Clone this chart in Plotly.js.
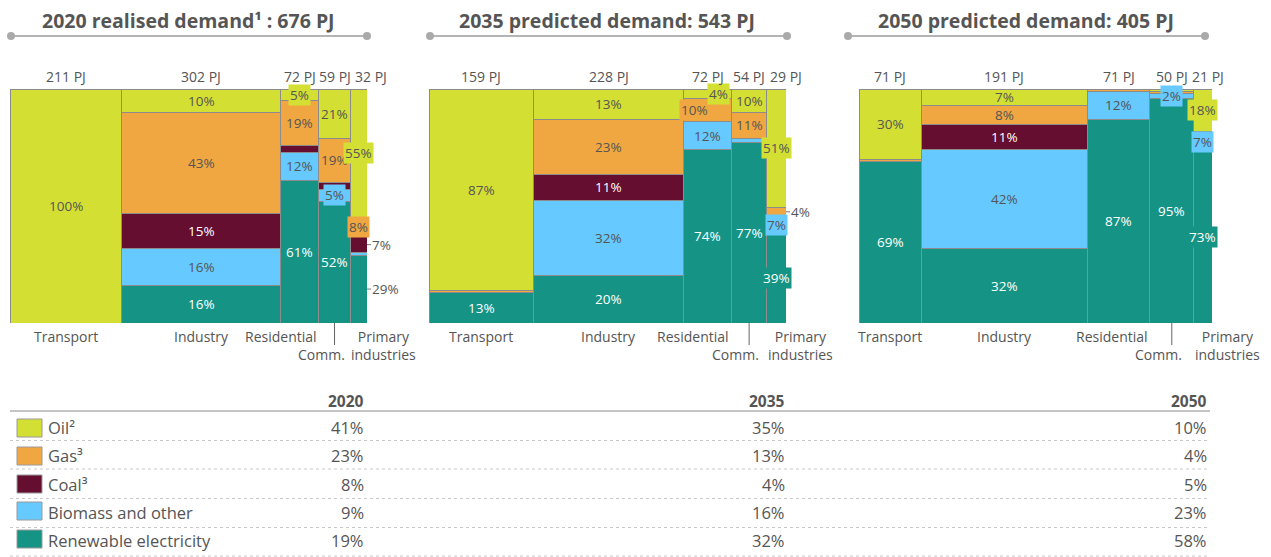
<!DOCTYPE html>
<html><head><meta charset="utf-8">
<script src="https://cdn.plot.ly/plotly-3.0.1.min.js"></script>
<style>html,body{margin:0;padding:0;background:#fff}</style>
</head><body>
<div id="chart" style="width:1271px;height:557px"></div>
<script>
// ---------- DATA ----------
const sectors = ['Transport', 'Industry', 'Residential', 'Comm.', 'Primary industries'];
const panelTitles = ['2020 realised demand¹ : 676 PJ', '2035 predicted demand: 543 PJ', '2050 predicted demand: 405 PJ'];
const years = ['2020', '2035', '2050'];
const fuels = ['Oil²', 'Gas³', 'Coal³', 'Biomass and other', 'Renewable electricity'];

// sector demand (PJ): Transport, Industry, Residential, Comm., Primary industries
const pj2020 = [211, 302, 72, 59, 32];
const pj2035 = [159, 228, 72, 54, 29];
const pj2050 = [71, 191, 71, 50, 21];

// fuel share within each sector (%)
const oil2020 = [100, 10, 5, 21, 55];
const gas2020 = [0, 43, 19, 19, 8];
const coal2020 = [0, 15, 3, 3, 7];
const bio2020 = [0, 16, 12, 5, 1];
const ren2020 = [0, 16, 61, 52, 29];

const oil2035 = [87, 13, 4, 10, 51];
const gas2035 = [1, 23, 10, 11, 4];
const coal2035 = [0, 11, 0, 0, 0];
const bio2035 = [0, 32, 12, 2, 7];
const ren2035 = [13, 20, 74, 77, 39];

const oil2050 = [30, 7, 0, 1, 18];
const gas2050 = [1, 8, 1, 1, 1];
const coal2050 = [0, 11, 0, 0, 0];
const bio2050 = [0, 42, 12, 2, 7];
const ren2050 = [69, 32, 87, 95, 73];

// overall fuel mix (%)
const mix2020 = [41, 23, 8, 9, 19];
const mix2035 = [35, 13, 4, 16, 32];
const mix2050 = [10, 4, 5, 23, 58];

// ---------- STYLE / LAYOUT ----------
const W = 1271, H = 557;
const PX = x => x / W, PY = y => 1 - y / H;
const panelX = [[10, 367], [429, 786], [859, 1212]];
const TOP = 89, BOT = 323;
const titleLine = [[11, 367], [430, 787], [848, 1205]];
const titleCenter = [188, 607, 1026];
const primPJShift = [12, 10, 5];
const fuelColors = ['#d4df33', '#f0a741', '#650e2f', '#66c9ff', '#159486'];
const GREY = '#555555';
const textOn = [GREY, GREY, '#ffffff', GREY, '#ffffff'];
const LBL = 13.5;

// label style overrides: panel-sector-fuel
const labelMode = {
  '0-2-0': {m: 'box'}, '0-3-3': {m: 'box'}, '0-4-2': {m: 'out'}, '0-4-4': {m: 'out'},
  '1-2-0': {m: 'box', dx: 11}, '1-2-1': {m: 'box', dx: -13}, '1-4-1': {m: 'out'},
  '2-3-3': {m: 'box'}
};

const pjs = [pj2020, pj2035, pj2050];
const shares = [
  [oil2020, gas2020, coal2020, bio2020, ren2020],
  [oil2035, gas2035, coal2035, bio2035, ren2035],
  [oil2050, gas2050, coal2050, bio2050, ren2050]
];
const mixes = [mix2020, mix2035, mix2050];

const traces = [], annotations = [], shapes = [];
const layout = {
  width: W, height: H, margin: {l: 0, r: 0, t: 0, b: 0},
  paper_bgcolor: '#fff', plot_bgcolor: 'rgba(0,0,0,0)',
  barmode: 'stack', showlegend: false,
  font: {family: 'Open Sans, Noto Sans, sans-serif', color: GREY, size: 14}
};

pjs.forEach((pj, p) => {
  const sfx = p ? String(p + 1) : '';
  const xa = 'x' + sfx, ya = 'y' + sfx;
  const total = pj.reduce((a, b) => a + b, 0);
  const toPxX = u => panelX[p][0] + u / total * (panelX[p][1] - panelX[p][0]);
  const toPxY = v => BOT - v / 100 * (BOT - TOP);
  const lefts = [], centers = [];
  let acc = 0;
  pj.forEach(v => { lefts.push(acc); centers.push(acc + v / 2); acc += v; });
  const colSum = pj.map((_, i) => shares[p].reduce((s, arr) => s + arr[i], 0));
  const norm = shares[p].map(arr => arr.map((v, i) => v / colSum[i] * 100));

  layout['xaxis' + sfx] = {domain: [PX(panelX[p][0]), PX(panelX[p][1])], range: [0, total],
    visible: false, fixedrange: true, anchor: ya};
  layout['yaxis' + sfx] = {domain: [PY(BOT), PY(TOP)], range: [0, 100],
    visible: false, fixedrange: true, anchor: xa};

  for (let k = 4; k >= 0; k--) {
    traces.push({
      type: 'bar', x: centers, y: norm[k].map(v => v > 0 ? v : null), width: pj,
      xaxis: xa, yaxis: ya, hoverinfo: 'skip', showlegend: false,
      marker: {color: fuelColors[k], line: {color: '#8c8c8c', width: 1}}
    });
  }

  // segment labels
  pj.forEach((_, i) => {
    let base = 0;
    for (let k = 4; k >= 0; k--) {
      const raw = shares[p][k][i], v = norm[k][i];
      const mid = base + v / 2;
      base += v;
      if (!raw) continue;
      const ov = labelMode[p + '-' + i + '-' + k];
      let mode = ov ? ov.m : (i === 4 ? (raw >= 4 ? 'box' : 'none') : (raw >= 4 ? 'plain' : 'none'));
      if (mode === 'none') continue;
      const txt = raw + '%';
      if (mode === 'out') {
        const xr = lefts[i] + pj[i];
        annotations.push({xref: xa, yref: ya, x: xr, y: mid, text: txt, showarrow: false,
          xanchor: 'left', yanchor: 'middle', xshift: 3, font: {size: LBL, color: GREY}});
        const px0 = toPxX(xr), py0 = toPxY(mid);
        shapes.push({type: 'line', xref: 'paper', yref: 'paper', x0: PX(px0), x1: PX(px0 + 4),
          y0: PY(py0), y1: PY(py0), line: {color: '#777', width: 1}});
      } else {
        const a = {xref: xa, yref: ya, x: centers[i], y: mid, text: txt, showarrow: false,
          xanchor: 'center', yanchor: 'middle', xshift: (ov && ov.dx) || 0,
          font: {size: LBL, color: textOn[k]}};
        if (mode === 'box') { a.bgcolor = fuelColors[k]; a.borderpad = 1; }
        annotations.push(a);
      }
    }
  });

  // PJ labels on top
  pj.forEach((v, i) => {
    annotations.push({xref: xa, yref: 'paper', x: centers[i], y: PY(76), text: v + ' PJ',
      showarrow: false, xanchor: 'center', yanchor: 'middle', xshift: i === 4 ? primPJShift[p] : 0,
      font: {size: 14, color: GREY}});
  });

  // sector labels below
  annotations.push({xref: xa, yref: 'paper', x: centers[0], y: PY(336), text: sectors[0],
    showarrow: false, xanchor: 'center', yanchor: 'middle', font: {size: 14, color: GREY}});
  annotations.push({xref: xa, yref: 'paper', x: centers[1], y: PY(336), text: sectors[1],
    showarrow: false, xanchor: 'center', yanchor: 'middle', font: {size: 14, color: GREY}});
  annotations.push({xref: xa, yref: 'paper', x: lefts[2] + pj[2], y: PY(336), text: sectors[2],
    showarrow: false, xanchor: 'right', yanchor: 'middle', xshift: 0, font: {size: 14, color: GREY}});
  annotations.push({xref: xa, yref: 'paper', x: centers[3], y: PY(354), text: sectors[3],
    showarrow: false, xanchor: 'right', yanchor: 'middle', xshift: 12, font: {size: 14, color: GREY}});
  const cx = toPxX(centers[3]);
  shapes.push({type: 'line', xref: 'paper', yref: 'paper', x0: PX(cx), x1: PX(cx),
    y0: PY(BOT), y1: PY(345), line: {color: '#666', width: 1}});
  annotations.push({xref: xa, yref: 'paper', x: lefts[4], y: PY(345), text: 'Primary<br>industries',
    showarrow: false, xanchor: 'left', yanchor: 'middle', align: 'center', xshift: -1,
    font: {size: 14, color: GREY}});

  // panel title and rule
  annotations.push({xref: 'paper', yref: 'paper', x: PX(titleCenter[p]), y: PY(20),
    text: '<b>' + panelTitles[p] + '</b>', showarrow: false, xanchor: 'center', yanchor: 'middle',
    font: {size: 19.5, color: GREY}});
  const [a0, a1] = titleLine[p];
  shapes.push({type: 'line', xref: 'paper', yref: 'paper', x0: PX(a0), x1: PX(a1), y0: PY(36), y1: PY(36),
    line: {color: '#b4b4b4', width: 2}});
  [a0, a1].forEach(c => shapes.push({type: 'circle', xref: 'paper', yref: 'paper',
    x0: PX(c - 4), x1: PX(c + 4), y0: PY(40), y1: PY(32), fillcolor: '#aaaaaa', line: {width: 0}}));
});

// ---------- TABLE ----------
const colRight = [366, 787, 1209];
const rowY = [427, 455.5, 484, 512, 540];
const sqY = [428, 456, 484, 511, 539];
const lineY = [440.5, 469, 498.5, 527.5, 556];

years.forEach((y, j) => {
  annotations.push({xref: 'paper', yref: 'paper', x: PX(colRight[j]), y: PY(400.5), text: '<b>' + y + '</b>',
    showarrow: false, xanchor: 'right', yanchor: 'middle', font: {size: 15.5, color: GREY}});
});
shapes.push({type: 'line', xref: 'paper', yref: 'paper', x0: PX(10), x1: PX(1210), y0: PY(411), y1: PY(411),
  line: {color: '#c4c4c4', width: 2}});

fuels.forEach((f, r) => {
  shapes.push({type: 'rect', xref: 'paper', yref: 'paper', x0: PX(17), x1: PX(42),
    y0: PY(sqY[r] + 9), y1: PY(sqY[r] - 9), fillcolor: fuelColors[r], line: {color: '#9a9a9a', width: 1}});
  annotations.push({xref: 'paper', yref: 'paper', x: PX(46), y: PY(rowY[r]), text: f,
    showarrow: false, xanchor: 'left', yanchor: 'middle', font: {size: 16.5, color: GREY}});
  mixes.forEach((m, j) => {
    annotations.push({xref: 'paper', yref: 'paper', x: PX(colRight[j]), y: PY(rowY[r]), text: m[r] + '%',
      showarrow: false, xanchor: 'right', yanchor: 'middle', font: {size: 16.5, color: GREY}});
  });
  shapes.push({type: 'line', xref: 'paper', yref: 'paper', x0: PX(10), x1: PX(1210),
    y0: PY(lineY[r]), y1: PY(lineY[r]), line: {color: '#c8c8c8', width: 1, dash: 'dot'}});
});

layout.annotations = annotations;
layout.shapes = shapes;
Plotly.newPlot('chart', traces, layout, {staticPlot: true, displayModeBar: false});
</script>
</body></html>
